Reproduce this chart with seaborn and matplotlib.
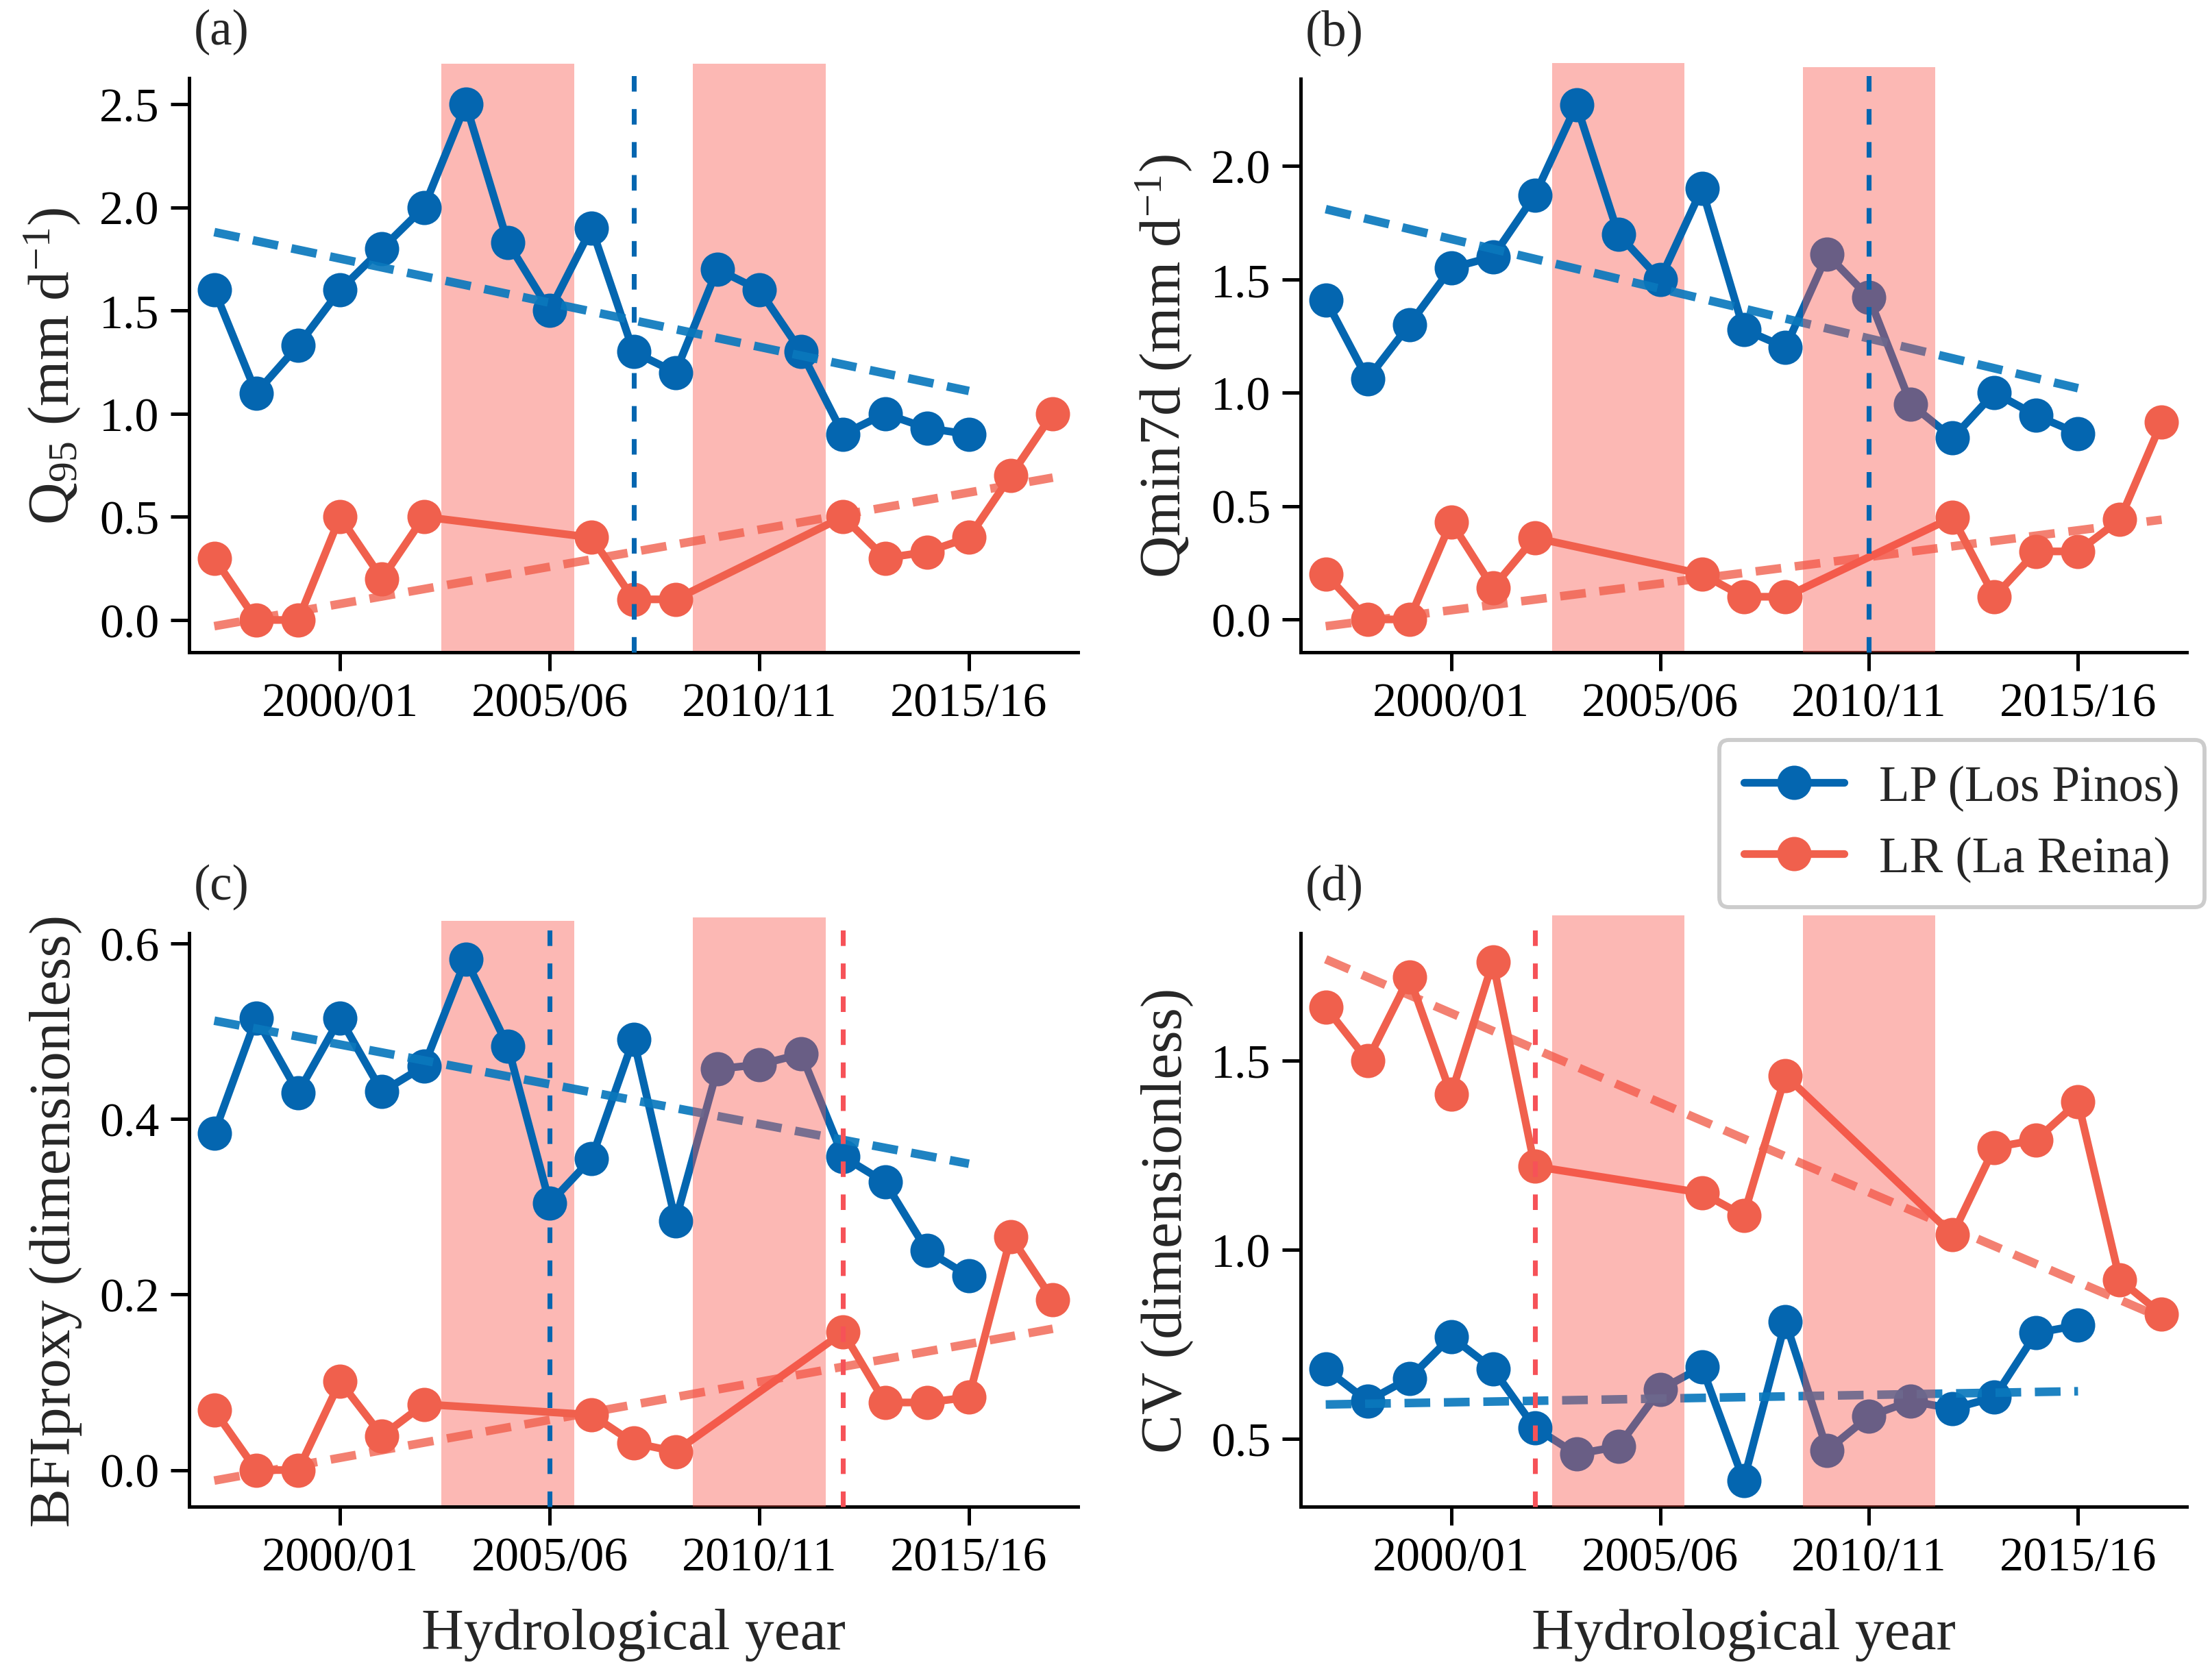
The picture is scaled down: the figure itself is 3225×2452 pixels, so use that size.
import matplotlib
matplotlib.use("Agg")
import matplotlib.pyplot as plt
import seaborn as sns
from matplotlib.lines import Line2D


# hydrological years (start year of each season)
YEARS_LP = [1997, 1998, 1999, 2000, 2001, 2002, 2003, 2004, 2005, 2006,
            2007, 2008, 2009, 2010, 2011, 2012, 2013, 2014, 2015]
YEARS_LR = [1997, 1998, 1999, 2000, 2001, 2002, 2006, 2007, 2008,
            2012, 2013, 2014, 2015, 2016, 2017]

XTICKS = [2000, 2005, 2010, 2015]
XTICK_LABELS = ["2000/01", "2005/06", "2010/11", "2015/16"]

# (a) Q95
Q95_LP = [1.60, 1.10, 1.33, 1.60, 1.80, 2.00, 2.50, 1.83, 1.50, 1.90,
          1.30, 1.20, 1.70, 1.60, 1.30, 0.90, 1.00, 0.93, 0.90]
Q95_LR = [0.30, 0.00, 0.00, 0.50, 0.20, 0.50, 0.40, 0.10, 0.10,
          0.50, 0.30, 0.33, 0.40, 0.70, 1.00]
Q95_TREND_LP = [1.88, 1.11]
Q95_TREND_LR = [-0.03, 0.69]

# (b) Qmin7d
QMIN_LP = [1.41, 1.06, 1.30, 1.55, 1.60, 1.87, 2.27, 1.70, 1.50, 1.90,
           1.28, 1.20, 1.61, 1.42, 0.95, 0.80, 1.00, 0.90, 0.82]
QMIN_LR = [0.20, 0.00, 0.00, 0.43, 0.14, 0.36, 0.20, 0.10, 0.10,
           0.45, 0.10, 0.30, 0.30, 0.44, 0.87]
QMIN_TREND_LP = [1.81, 1.02]
QMIN_TREND_LR = [-0.03, 0.44]

# (c) BFIproxy
BFI_LP = [0.384, 0.515, 0.430, 0.515, 0.431, 0.460, 0.582, 0.483, 0.304, 0.355,
          0.491, 0.284, 0.457, 0.462, 0.474, 0.357, 0.328, 0.250, 0.221]
BFI_LR = [0.068, 0.000, 0.000, 0.101, 0.039, 0.075, 0.063, 0.031, 0.021,
          0.157, 0.077, 0.077, 0.083, 0.266, 0.194]
BFI_TREND_LP = [0.512, 0.349]
BFI_TREND_LR = [-0.012, 0.161]

# (d) CV
CV_LP = [0.685, 0.60, 0.66, 0.77, 0.685, 0.53, 0.46, 0.48, 0.63, 0.69,
         0.39, 0.81, 0.47, 0.56, 0.60, 0.58, 0.61, 0.78, 0.80]
CV_LR = [1.64, 1.50, 1.72, 1.41, 1.76, 1.22, 1.15, 1.09, 1.46,
         1.04, 1.27, 1.29, 1.39, 0.92, 0.83]
CV_TREND_LP = [0.591, 0.626]
CV_TREND_LR = [1.767, 0.82]

TREND_YEARS_LP = [1997, 2015]
TREND_YEARS_LR = [1997, 2017]

# shaded periods
SPANS = [(2002.42, 2005.58), (2008.42, 2011.58)]

LP_COLOR = "#0466b0"
LR_COLOR = "#f0604d"
LP_TREND = "#0a78bd"
LR_VLINE = "#f65258"
SPAN_COLOR = "#fa5349"

PANELS = [
    {"tag": "(a)", "ylabel": "Q$_{95}$ (mm d$^{-1}$)", "lp": Q95_LP, "lr": Q95_LR,
     "tlp": Q95_TREND_LP, "tlr": Q95_TREND_LR, "yticks": [0.0, 0.5, 1.0, 1.5, 2.0, 2.5],
     "vlines": [(2007, LP_COLOR)], "span_top": [False, False], "span_ymax": [1.025, 1.025],
     "vline_ymax": 1.025, "rect": [276, 1573, 115, 953]},
    {"tag": "(b)", "ylabel": "Qmin7d (mm d$^{-1}$)", "lp": QMIN_LP, "lr": QMIN_LR,
     "tlp": QMIN_TREND_LP, "tlr": QMIN_TREND_LR, "yticks": [0.0, 0.5, 1.0, 1.5, 2.0],
     "vlines": [(2010, LP_COLOR)], "span_top": [False, True], "span_ymax": [1.027, 1.020],
     "vline_ymax": 1.020, "rect": [1898, 3191, 116, 953]},
    {"tag": "(c)", "ylabel": "BFIproxy (dimensionless)", "lp": BFI_LP, "lr": BFI_LR,
     "tlp": BFI_TREND_LP, "tlr": BFI_TREND_LR, "yticks": [0.0, 0.2, 0.4, 0.6],
     "vlines": [(2005, LP_COLOR), (2012, LR_VLINE)], "span_top": [False, True],
     "span_ymax": [1.022, 1.028], "vline_ymax": 1.025, "rect": [276, 1573, 1363, 2200]},
    {"tag": "(d)", "ylabel": "CV (dimensionless)", "lp": CV_LP, "lr": CV_LR,
     "tlp": CV_TREND_LP, "tlr": CV_TREND_LR, "yticks": [0.5, 1.0, 1.5],
     "vlines": [(2002, LR_VLINE)], "span_top": [True, True], "span_ymax": [1.031, 1.031],
     "vline_ymax": 1.025, "rect": [1898, 3191, 1363, 2200]},
]

W, H = 3225, 2453
DPI = 300

sns.set_theme(style="ticks")
plt.rcParams["font.family"] = ["Liberation Serif", "DejaVu Serif"]
plt.rcParams["mathtext.fontset"] = "custom"
plt.rcParams["mathtext.rm"] = "Liberation Serif"
plt.rcParams["mathtext.it"] = "Liberation Serif:italic"
plt.rcParams["mathtext.default"] = "regular"
plt.rcParams["axes.linewidth"] = 1.2
plt.rcParams["axes.edgecolor"] = "black"

fig = plt.figure(figsize=(W / DPI, H / DPI), dpi=DPI)

for i, p in enumerate(PANELS):
    x0, x1, y0, y1 = p["rect"]
    ax = fig.add_axes([x0 / W, 1 - y1 / H, (x1 - x0) / W, (y1 - y0) / H])

    for (s0, s1), on_top, ymax in zip(SPANS, p["span_top"], p["span_ymax"]):
        span = ax.axvspan(s0, s1, ymin=0.0, ymax=ymax, color=SPAN_COLOR, alpha=0.41,
                          lw=0, zorder=2.6 if on_top else 0.5)
        span.set_clip_on(False)

    sns.lineplot(x=YEARS_LP, y=p["lp"], ax=ax, color=LP_COLOR, lw=2.7, marker="o",
                 markersize=11, markeredgecolor=LP_COLOR, markeredgewidth=1,
                 errorbar=None, zorder=2)
    sns.lineplot(x=YEARS_LR, y=p["lr"], ax=ax, color=LR_COLOR, lw=2.7, marker="o",
                 markersize=11, markeredgecolor=LR_COLOR, markeredgewidth=1,
                 errorbar=None, zorder=2)

    ax.plot(TREND_YEARS_LP, p["tlp"], color=LP_TREND, lw=3.0, alpha=0.92,
            dashes=(3.0, 1.6), zorder=2.4)
    ax.plot(TREND_YEARS_LR, p["tlr"], color=LR_COLOR, lw=3.0, alpha=0.8,
            dashes=(3.0, 1.6), zorder=2.4)

    for xv, col in p["vlines"]:
        vl = ax.axvline(xv, ymin=0.0, ymax=p["vline_ymax"], color=col, lw=1.7,
                        dashes=(3.2, 3.6), zorder=3)
        vl.set_clip_on(False)

    ax.set_xlim(1996.4, 2017.6)
    ax.set_xticks(XTICKS)
    ax.set_xticklabels(XTICK_LABELS)
    ax.set_yticks(p["yticks"])
    ax.yaxis.set_major_formatter(matplotlib.ticker.FormatStrFormatter("%.1f"))
    ax.tick_params(labelsize=16.8, length=6.4, width=1.2, colors="black", pad=4)
    ax.set_ylabel(p["ylabel"], fontsize=20.5, labelpad=6)
    if i >= 2:
        ax.set_xlabel("Hydrological year", fontsize=20.5, labelpad=10)
    else:
        ax.set_xlabel("")
    ax.text(0.005, 1.04, p["tag"], transform=ax.transAxes, fontsize=17.5,
            ha="left", va="bottom")
    sns.despine(ax=ax)

handles = [
    Line2D([0], [0], color=LP_COLOR, lw=2.7, marker="o", markersize=11),
    Line2D([0], [0], color=LR_COLOR, lw=2.7, marker="o", markersize=11),
]
fig.legend(handles, ["LP (Los Pinos)", "LR (La Reina)"], loc="center",
           bbox_to_anchor=(2863 / W, 1 - 1203 / H), fontsize=17.5,
           handlelength=2.0, handletextpad=0.7, labelspacing=0.5,
           frameon=True, fancybox=True, edgecolor="#cccccc", framealpha=1.0,
           borderpad=0.5)
fig.legends[0].get_frame().set_linewidth(1.4)

fig.savefig("out.png", dpi=DPI)
